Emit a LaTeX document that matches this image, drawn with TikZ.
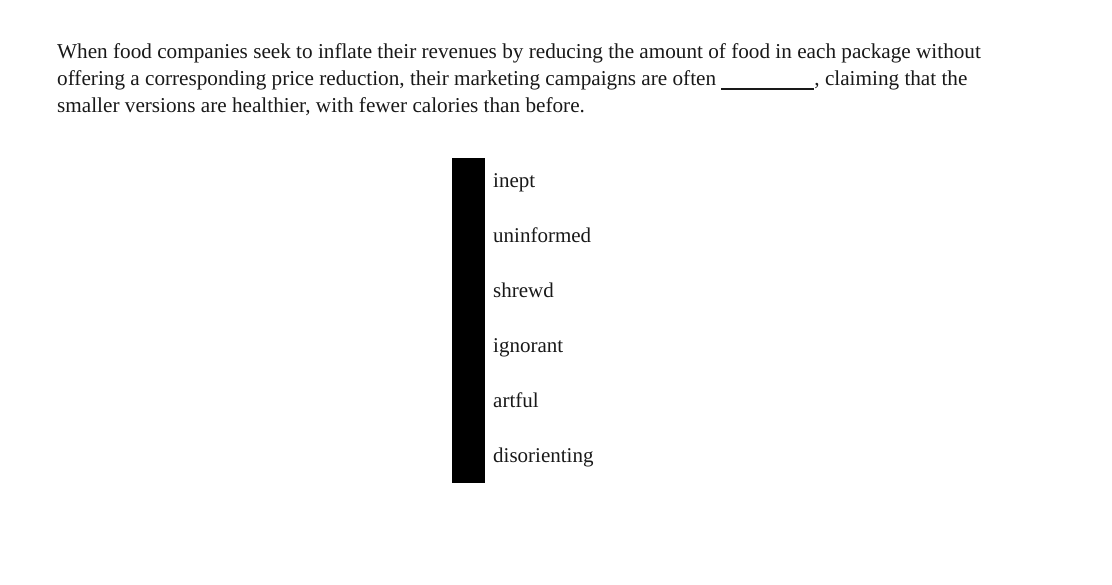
\documentclass[tikz,border=0pt]{standalone}
\usepackage{fontspec}
\setmainfont{Liberation Serif}
\begin{document}
\begin{tikzpicture}[x=1pt,y=-1pt,
  txt/.style={anchor=base west,inner sep=0pt,font=\fontsize{21.2}{25}\selectfont,text=black!90},
  opt/.style={anchor=base west,inner sep=0pt,font=\fontsize{21}{25}\selectfont,text=black!90}]
\fill[white] (0,0) rectangle (1112,585);
\useasboundingbox (0,0) rectangle (1112,585);
\node[txt] (l1) at (57,59) {When food companies seek to inflate their revenues by reducing the amount of food in each package without};
\node[txt] (l2) at (57,86) {offering a corresponding price reduction, their marketing campaigns are often \rule[-4pt]{93pt}{2pt}, claiming that the};
\node[txt] (l3) at (57,113) {smaller versions are healthier, with fewer calories than before.};
\fill[black] (452,158) rectangle (485,483);
\node[opt] (o1) at (493,188) {inept};
\node[opt] (o2) at (493,243) {uninformed};
\node[opt] (o3) at (493,298) {shrewd};
\node[opt] (o4) at (493,353) {ignorant};
\node[opt] (o5) at (493,408) {artful};
\node[opt] (o6) at (493,463) {disorienting};
\end{tikzpicture}
\end{document}
